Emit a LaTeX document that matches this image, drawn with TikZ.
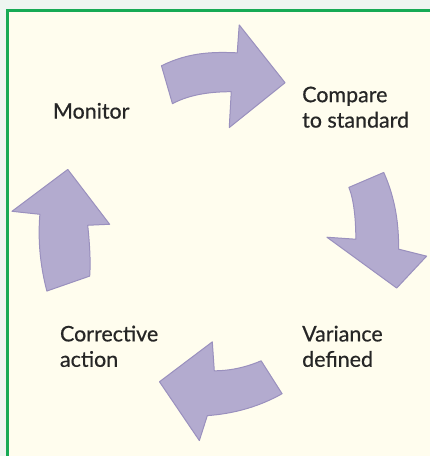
\documentclass[tikz,border=0pt]{standalone}
\usepackage{fontspec}
\setmainfont{Lato}
\newfontfamily\labelfont{Lato}[FakeBold=0.6]
\definecolor{pagebg}{HTML}{EEF5F1}
\definecolor{panelbg}{HTML}{FFFDEE}
\definecolor{framegreen}{HTML}{17AA55}
\definecolor{arrowfill}{HTML}{B3ABCF}
\definecolor{arrowline}{HTML}{9A90BE}
\definecolor{labeltext}{HTML}{262626}
\begin{document}
\begin{tikzpicture}[x=1pt,y=-1pt,
  cyclearrow/.style={fill=arrowfill,draw=arrowline,line width=1pt,line join=round},
  steplabel/.style={anchor=base west,inner sep=0pt,text=labeltext,font=\labelfont\fontsize{21.5}{25.5}\selectfont,align=left}]
  % page and panel
  \fill[pagebg] (0,0) rectangle (431,457);
  \fill[panelbg] (8,11) rectangle (431,457);
  \draw[framegreen,line width=3pt] (8,457) -- (8,11) -- (431,11);
  \useasboundingbox (0,0) rectangle (431,457);

  % four curved block arrows forming the cycle
  \draw[cyclearrow] (162,66) .. controls (190,52) and (215,52) .. (238,53)
    -- (240,25) -- (286,83) -- (230,128) -- (232,92)
    .. controls (210,92) and (190,95) .. (173,104) -- cycle;
  \draw[cyclearrow] (350,188) -- (385,173) .. controls (397,200) and (400,225) .. (400,250)
    -- (428,257) -- (398,289) -- (328,238) -- (357,240)
    .. controls (357,220) and (355,200) .. (350,188) -- cycle;
  \draw[cyclearrow] (283,395) .. controls (260,408) and (235,415) .. (208,417)
    -- (200,442) -- (160,383) -- (213,343) -- (215,372)
    .. controls (232,372) and (248,368) .. (262,362) -- cycle;
  \draw[cyclearrow] (47,292) .. controls (40,265) and (38,240) .. (40,215)
    -- (12,212) -- (68,170) -- (110,225) -- (88,226)
    .. controls (90,245) and (91,262) .. (90,277) -- cycle;

  % step labels (base anchor sits on the last line)
  \node[steplabel] (monitor) at (53,119) {Monitor};
  \node[steplabel] (compare) at (303,128) {Compare\\to standard};
  \node[steplabel] (variance) at (303,368) {Variance\\defined};
  \node[steplabel] (corrective) at (60,368) {Corrective\\action};
\end{tikzpicture}
\end{document}
